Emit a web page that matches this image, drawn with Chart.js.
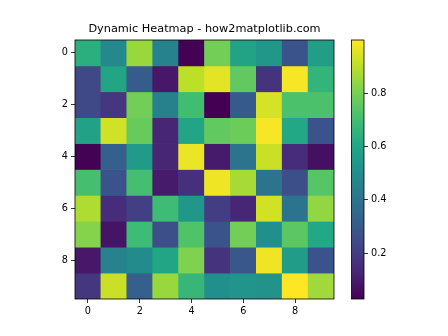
<!DOCTYPE html>
<html>
<head>
<meta charset="utf-8">
<script src="https://cdn.jsdelivr.net/npm/chart.js@4.4.0/dist/chart.umd.min.js"></script>
<style>
  html, body { margin: 0; padding: 0; background: #fff; }
  canvas { display: block; }
</style>
</head>
<body>
<canvas id="heat" width="448" height="336"></canvas>
<script>
// heatmap values, row 0 at top
var row0 = [0.64, 0.48, 0.85, 0.46, 0.03, 0.79, 0.59, 0.54, 0.28, 0.57];
var row1 = [0.24, 0.60, 0.31, 0.09, 0.90, 0.96, 0.76, 0.17, 0.99, 0.66];
var row2 = [0.24, 0.18, 0.79, 0.45, 0.70, 0.028, 0.30, 0.94, 0.72, 0.72];
var row3 = [0.58, 0.93, 0.77, 0.13, 0.60, 0.76, 0.78, 0.99, 0.61, 0.28];
var row4 = [0.03, 0.32, 0.55, 0.13, 0.97, 0.10, 0.40, 0.92, 0.15, 0.07];
var row5 = [0.71, 0.28, 0.71, 0.10, 0.16, 0.98, 0.87, 0.40, 0.26, 0.74];
var row6 = [0.88, 0.15, 0.21, 0.69, 0.54, 0.20, 0.13, 0.93, 0.40, 0.84];
var row7 = [0.82, 0.08, 0.69, 0.26, 0.73, 0.28, 0.79, 0.51, 0.75, 0.61];
var row8 = [0.09, 0.46, 0.49, 0.60, 0.81, 0.17, 0.29, 0.98, 0.56, 0.28];
var row9 = [0.18, 0.92, 0.32, 0.85, 0.67, 0.51, 0.53, 0.52, 0.999, 0.86];
var rows = [row0, row1, row2, row3, row4, row5, row6, row7, row8, row9];

var cols = [0, 1, 2, 3, 4, 5, 6, 7, 8, 9];
var axisTicks = [0, 2, 4, 6, 8];
var cbarTicks = [0.2, 0.4, 0.6, 0.8];
var title = 'Dynamic Heatmap - how2matplotlib.com';

(function () {
    'use strict';

    var viridis = ['#440154', '#482475', '#414487', '#355f8d', '#2a788e', '#21918c',
                   '#22a884', '#44bf70', '#7ad151', '#bddf26', '#fde725'];
    var all = [].concat.apply([], rows);
    var vmin = Math.min.apply(null, all);
    var vmax = Math.max.apply(null, all);

    function hex(h) {
        return [parseInt(h.substr(1, 2), 16), parseInt(h.substr(3, 2), 16), parseInt(h.substr(5, 2), 16)];
    }
    function colorAt(t) {
        t = Math.max(0, Math.min(1, t));
        var p = t * (viridis.length - 1);
        var i = Math.min(Math.floor(p), viridis.length - 2);
        var f = p - i;
        var a = hex(viridis[i]), b = hex(viridis[i + 1]);
        return 'rgb(' + [0, 1, 2].map(function (k) { return Math.round(a[k] + (b[k] - a[k]) * f); }).join(',') + ')';
    }
    function cmap(v) { return colorAt((v - vmin) / (vmax - vmin)); }

    var font = { family: 'DejaVu Sans', size: 9.7 };
    var setTicks = function (list) {
        return function (axis) { axis.ticks = list.map(function (v) { return { value: v }; }); };
    };
    var tickGrid = { display: true, drawOnChartArea: false, drawTicks: true, tickLength: 4, color: '#000', lineWidth: 0.8, offset: false };

    var datasets = rows.map(function (vals, r) {
        return {
            label: 'row ' + r,
            data: cols.map(function (c) { return { x: c, y: [r - 0.5, r + 0.5] }; }),
            backgroundColor: vals.map(cmap),
            borderWidth: 0,
            grouped: false,
            barPercentage: 1,
            categoryPercentage: 1
        };
    });

    var frame = {
        id: 'frame',
        afterDatasetsDraw: function (chart) {
            var a = chart.chartArea, ctx = chart.ctx;
            ctx.save();
            ctx.strokeStyle = '#000';
            ctx.lineWidth = 0.8;
            ctx.strokeRect(a.left, a.top, a.right - a.left, a.bottom - a.top);

            // colour bar next to its axis
            var cb = chart.scales.cb;
            var x1 = cb.left, x0 = x1 - 12.5;
            var g = ctx.createLinearGradient(0, cb.bottom, 0, cb.top);
            viridis.forEach(function (c, i) { g.addColorStop(i / (viridis.length - 1), c); });
            ctx.fillStyle = g;
            ctx.fillRect(x0, cb.top, x1 - x0, cb.bottom - cb.top);
            ctx.strokeRect(x0, cb.top, x1 - x0, cb.bottom - cb.top);
            ctx.restore();
        }
    };

    new Chart(document.getElementById('heat').getContext('2d'), {
        type: 'bar',
        data: { datasets: datasets },
        plugins: [frame],
        options: {
            responsive: false,
            animation: false,
            devicePixelRatio: 1,
            layout: { padding: { left: 55, right: 44, top: 0, bottom: 17 } },
            plugins: {
                legend: { display: false },
                tooltip: { enabled: false },
                title: {
                    display: true,
                    text: title,
                    fullSize: false,
                    color: '#000',
                    font: { family: 'DejaVu Sans', size: 11.3, weight: 'normal' },
                    padding: { top: 22.5, bottom: 3.94 }
                }
            },
            scales: {
                x: {
                    type: 'linear', position: 'bottom', min: -0.5, max: 9.5, offset: false,
                    afterBuildTicks: setTicks(axisTicks),
                    afterFit: function (s) { s.height = 20; },
                    grid: tickGrid, border: { display: false },
                    ticks: { font: font, color: '#000', padding: 3, maxRotation: 0 }
                },
                y: {
                    type: 'linear', position: 'left', reverse: true, min: -0.5, max: 9.5,
                    offset: false, beginAtZero: false,
                    afterBuildTicks: setTicks(axisTicks),
                    afterFit: function (s) { s.width = 20; },
                    grid: tickGrid, border: { display: false },
                    ticks: { font: font, color: '#000', padding: 3 }
                },
                gap: {
                    type: 'linear', position: 'right', display: true, weight: 0,
                    afterFit: function (s) { s.width = 30; },
                    grid: { display: false }, border: { display: false },
                    ticks: { display: false }
                },
                cb: {
                    type: 'linear', position: 'right', display: true, weight: 1,
                    min: vmin, max: vmax,
                    afterBuildTicks: setTicks(cbarTicks),
                    afterFit: function (s) { s.width = 40; },
                    grid: tickGrid, border: { display: false },
                    ticks: {
                        font: font, color: '#000', padding: 3,
                        callback: function (v) { return v.toFixed(1); }
                    }
                }
            }
        }
    });
})();
</script>
</body>
</html>
